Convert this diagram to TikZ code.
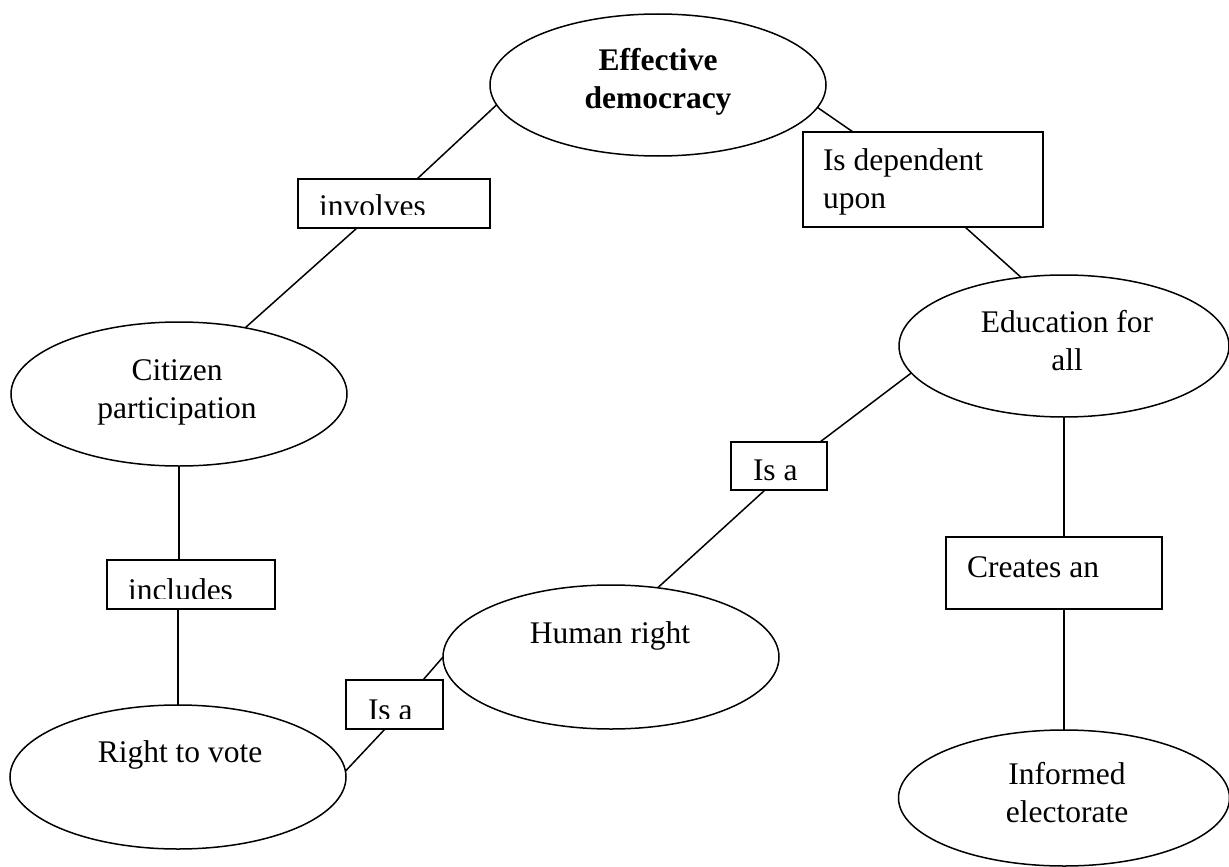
\documentclass[tikz,border=0pt]{standalone}
\usepackage{fontspec}
\setmainfont{Liberation Serif}
\usetikzlibrary{shapes.geometric,calc}
\begin{document}
\begin{tikzpicture}[x=1pt,y=-1pt,
  concept/.style={draw,ellipse,line width=1.5pt,inner sep=0pt,outer sep=0pt},
  linkbox/.style={draw,rectangle,line width=1.5pt,inner sep=0pt,outer sep=0pt},
  txt/.style={inner sep=0pt,outer sep=0pt,font=\fontsize{31.5}{37.5}\selectfont},
  link/.style={line width=1.5pt}]
\useasboundingbox (0,0) rectangle (1229,867);

% concept ellipses
\node[concept,minimum width=336pt,minimum height=142pt] (ed)  at (658,85)  {};
\node[concept,minimum width=330pt,minimum height=142pt] (efa) at (1064,346) {};
\node[concept,minimum width=336pt,minimum height=144pt] (cit) at (179,394) {};
\node[concept,minimum width=336pt,minimum height=144pt] (hr)  at (611,657) {};
\node[concept,minimum width=336pt,minimum height=144pt] (rtv) at (178,777) {};
\node[concept,minimum width=331pt,minimum height=136pt] (ie)  at (1064,798) {};

% linking-phrase boxes
\node[linkbox,minimum width=192pt,minimum height=49pt] (inv)  at (394,203.5) {};
\node[linkbox,minimum width=240pt,minimum height=95pt] (dep)  at (923,179.5) {};
\node[linkbox,minimum width=96pt,minimum height=48pt]  (isa1) at (779,466) {};
\node[linkbox,minimum width=168pt,minimum height=49pt] (inc)  at (191,584.5) {};
\node[linkbox,minimum width=216pt,minimum height=72pt] (cre)  at (1054,573) {};
\node[linkbox,minimum width=97pt,minimum height=49pt]  (isa2) at (394.5,704.5) {};

% concept labels (base anchor = baseline of the last line)
\node[txt,anchor=base,align=center,font=\fontsize{31.5}{38}\selectfont\bfseries] (edt) at (658,108) {Effective\\democracy};
\node[txt,anchor=base,align=center] (efat) at (1067,370) {Education for\\all};
\node[txt,anchor=base,align=center] (citt) at (177,418) {Citizen\\participation};
\node[txt,anchor=base] (hrt) at (610,643) {Human right};
\node[txt,anchor=base] (rtvt) at (180,762) {Right to vote};
\node[txt,anchor=base,align=center] (iet) at (1067,822) {Informed\\electorate};

% linking phrases
\node[txt,anchor=base west,align=left] (dept) at (823,208) {Is dependent\\upon};
\node[txt,anchor=base west] (cret) at (967,577) {Creates an};
\begin{scope}
  \clip (298,179) rectangle (490,214);
  \node[txt,anchor=base west] (invt) at (319,216) {involves};
\end{scope}
\begin{scope}
  \clip (731,442) rectangle (827,481);
  \node[txt,anchor=base west] (isa1t) at (753,480) {Is a};
\end{scope}
\begin{scope}
  \clip (107,560) rectangle (275,598);
  \node[txt,anchor=base west] (inct) at (128,600) {includes};
\end{scope}
\begin{scope}
  \clip (346,680) rectangle (443,718);
  \node[txt,anchor=base west] (isa2t) at (368,720) {Is a};
\end{scope}

% connectors
\draw[link] (ed.187.5) -- ($(inv.north)+(23,0)$);
\draw[link] ($(inv.south)+(-37,0)$) -- (cit.45);
\draw[link] (ed.352) -- ($(dep.north)+(-70,0)$);
\draw[link] ($(dep.south)+(42,0)$) -- (efa.122);
\draw[link] (efa.190) -- ($(isa1.north)+(41,0)$);
\draw[link] ($(isa1.south)+(-14,0)$) -- (hr.56);
\draw[link] (cit.south) -- (cit.south |- inc.north);
\draw[link] (rtv.north |- inc.south) -- (rtv.north);
\draw[link] (rtv.2) -- ($(isa2.south)+(-9.5,0)$);
\draw[link] ($(isa2.north)+(28.5,0)$) -- (hr.west);
\draw[link] (efa.south) -- (efa.south |- cre.north);
\draw[link] (ie.north |- cre.south) -- (ie.north);
\end{tikzpicture}
\end{document}
